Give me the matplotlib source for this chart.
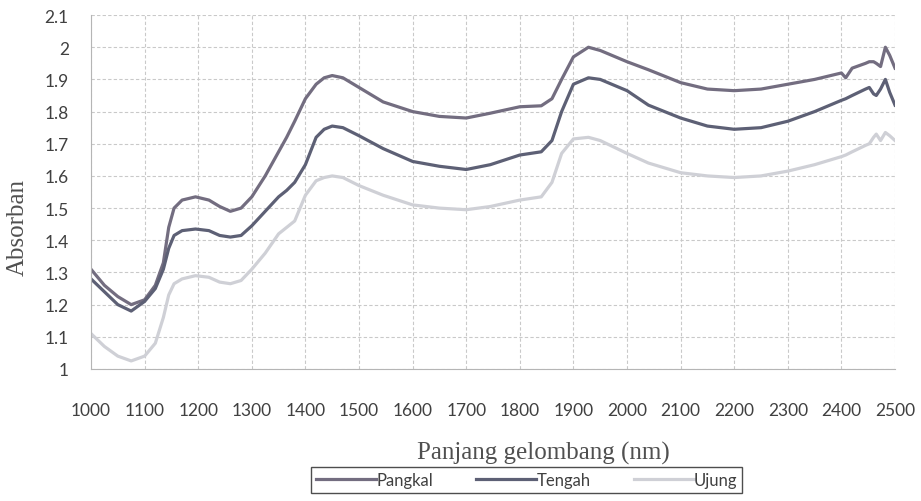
"""Spektrum absorban NIR: Pangkal / Tengah / Ujung"""
import matplotlib
matplotlib.use('Agg')
import matplotlib.pyplot as plt
from matplotlib.ticker import FormatStrFormatter, MultipleLocator

# panjang gelombang (nm)
wl = [1000, 1025, 1050, 1075, 1100, 1120, 1135, 1145, 1155, 1170, 1195, 1220,
      1240, 1260, 1280, 1300, 1325, 1350, 1365, 1380, 1400, 1420, 1435, 1450,
      1470, 1500, 1545, 1600, 1650, 1700, 1745, 1800, 1840, 1860, 1878, 1900,
      1928, 1950, 2000, 2040, 2100, 2150, 2200, 2250, 2300, 2350, 2400, 2408,
      2420, 2445, 2452, 2460, 2465, 2473, 2482, 2490, 2500]

pangkal = [1.31, 1.26, 1.225, 1.20, 1.215, 1.26, 1.33, 1.44, 1.50, 1.525, 1.535, 1.525,
           1.505, 1.49, 1.50, 1.535, 1.60, 1.675, 1.72, 1.77, 1.84, 1.885, 1.905, 1.912,
           1.905, 1.875, 1.83, 1.80, 1.785, 1.78, 1.795, 1.815, 1.818, 1.84, 1.90, 1.97,
           2.0, 1.99, 1.955, 1.93, 1.89, 1.87, 1.865, 1.87, 1.885, 1.90, 1.92, 1.905,
           1.935, 1.95, 1.955, 1.955, 1.95, 1.94, 2.0, 1.975, 1.935]

tengah = [1.28, 1.24, 1.20, 1.18, 1.21, 1.25, 1.31, 1.375, 1.415, 1.43, 1.435, 1.43,
          1.415, 1.41, 1.415, 1.445, 1.49, 1.535, 1.555, 1.58, 1.635, 1.72, 1.745, 1.755,
          1.75, 1.725, 1.685, 1.645, 1.63, 1.62, 1.635, 1.665, 1.675, 1.71, 1.80, 1.885,
          1.905, 1.90, 1.865, 1.82, 1.78, 1.755, 1.745, 1.75, 1.77, 1.80, 1.835, 1.84,
          1.85, 1.87, 1.875, 1.855, 1.85, 1.87, 1.90, 1.86, 1.82]

ujung = [1.11, 1.07, 1.04, 1.025, 1.04, 1.08, 1.16, 1.23, 1.265, 1.28, 1.29, 1.285,
         1.27, 1.265, 1.275, 1.31, 1.36, 1.42, 1.44, 1.46, 1.54, 1.585, 1.595, 1.60,
         1.595, 1.57, 1.54, 1.51, 1.50, 1.495, 1.505, 1.525, 1.535, 1.58, 1.67, 1.715,
         1.72, 1.71, 1.67, 1.64, 1.61, 1.60, 1.595, 1.60, 1.615, 1.635, 1.66, 1.665,
         1.675, 1.695, 1.70, 1.72, 1.73, 1.71, 1.735, 1.725, 1.71]

series = [('Pangkal', pangkal, '#736d80'),
          ('Tengah', tengah, '#5d6075'),
          ('Ujung', ujung, '#cfd0d6')]

fig = plt.figure(figsize=(9.21, 5.02), dpi=100)
ax = fig.add_axes([0.0988, 0.263, 0.873, 0.705])

for name, vals, col in series:
    ax.plot(wl, vals, color=col, lw=2.3, label=name)

ax.set_xlim(1000, 2500)
ax.set_ylim(1.0, 2.1)
ax.xaxis.set_major_locator(MultipleLocator(100))
ax.yaxis.set_major_locator(MultipleLocator(0.1))
ax.yaxis.set_major_formatter(FormatStrFormatter('%g'))
ax.grid(True, ls=(0, (3, 2)), color='#c9c9c9', lw=0.8)
ax.set_axisbelow(True)
for s in ('top', 'right'):
    ax.spines[s].set_visible(False)
for s in ('left', 'bottom'):
    ax.spines[s].set_color('#b5b5b5')
ax.tick_params(length=0, labelsize=12.5, labelcolor='#404040')
ax.tick_params(axis='x', pad=24)
ax.tick_params(axis='y', pad=16)
for lab in ax.get_xticklabels() + ax.get_yticklabels():
    lab.set_fontfamily('Lato')

fig.text(0.59, 0.096, 'Panjang gelombang (nm)', family='Liberation Serif',
         fontsize=18, color='#505050', ha='center', va='center')
fig.text(0.019, 0.546, 'Absorban', family='Liberation Serif', fontsize=18,
         color='#505050', rotation=90, ha='center', va='center')

leg = fig.legend(loc='upper right', bbox_to_anchor=(0.806, 0.068), ncol=3,
                 frameon=True, fancybox=False, handlelength=3.6,
                 columnspacing=2.6, handletextpad=0.0, borderpad=0.3,
                 borderaxespad=0, prop={'family': 'Lato', 'size': 12})
leg.get_frame().set_edgecolor('#222222')
leg.get_frame().set_linewidth(1.0)
for t in leg.get_texts():
    t.set_color('#404040')

fig.savefig('out.png', dpi=100)
